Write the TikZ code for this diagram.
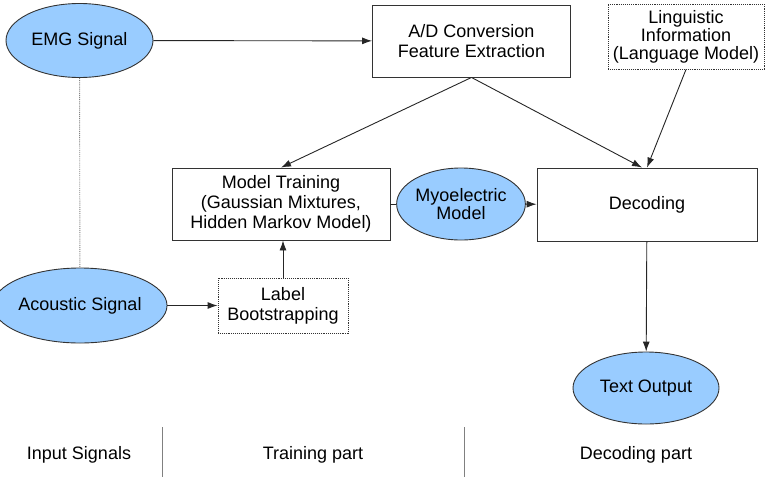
\documentclass[tikz,border=0pt]{standalone}
\usepackage{fontspec}
\setmainfont{Liberation Sans}
\usetikzlibrary{shapes.geometric, arrows.meta}
\tikzset{>={Latex[length=10pt, width=7pt]}}
\definecolor{sigblue}{HTML}{99CCFF}
\definecolor{edgegray}{HTML}{333333}
\tikzset{
	signal/.style={ellipse, draw=edgegray, fill=sigblue, inner sep=0pt, align=center},
	block/.style={rectangle, draw=edgegray, inner sep=0pt, align=center},
	extblock/.style={block, densely dotted},
	flow/.style={line width=.9pt, draw=black!85},
}

\begin{document}
\begin{tikzpicture}[x=1pt, y=-1pt, font=\fontsize{18}{20}\selectfont, line width=.9pt]
	\useasboundingbox (0, 0) rectangle (765, 477);
	% input signals
	\node[signal, minimum width=147pt, minimum height=74pt](emg)at(79.5, 40.5){EMG Signal};
	\node[signal, minimum width=146pt, minimum height=75pt](aco)at(80, 305.5){Acoustic Signal};
	% training part
	\node[block, minimum width=198pt, minimum height=72pt](ad)at(471.5, 41){A/D Conversion\\Feature Extraction};
	\node[block, minimum width=218pt, minimum height=72pt](train)at(281, 204){Model Training\\(Gaussian Mixtures,\\Hidden Markov Model)};
	\node[extblock, minimum width=130pt, minimum height=55pt](boot)at(283, 305.5){Label\\Bootstrapping};
	\node[signal, minimum width=112pt, minimum height=72pt, font=\fontsize{18}{18}\selectfont](myo)at(461, 204){Myoelectric\\Model};
	% decoding part
	\node[extblock, minimum width=156pt, minimum height=65pt, font=\fontsize{18}{18}\selectfont](ling)at(686, 36.5){Linguistic\\Information\\(Language Model)};
	\node[block, minimum width=220pt, minimum height=73pt](dec)at(647, 204.5){Decoding};
	\node[signal, minimum width=146pt, minimum height=72pt](out)at(646, 388){Text Output};
	% connections
	\draw[flow, ->](emg)--(ad);
	\draw[flow, ->](ad.south)--(train.north);
	\draw[flow, ->](ad.south)--([xshift=-5pt]dec.north);
	\draw[flow, ->](ling.south)--(dec.north);
	\draw[flow, ->](aco)--(boot);
	\draw[flow, ->](boot.north)--(boot.north |- train.south);
	\draw[flow](train)--(myo);
	\draw[flow, ->](myo)--(dec);
	\draw[flow, ->](dec)--(out);
	\draw[gray, densely dotted](emg)--(aco);
	% part labels
	\node(lin)at(79, 455){Input Signals};
	\node(ltr)at(313, 455){Training part};
	\node(lde)at(636, 455){Decoding part};
	\draw[gray](162, 427)--(162, 477);
	\draw[gray](464, 427)--(464, 477);
\end{tikzpicture}
\end{document}
